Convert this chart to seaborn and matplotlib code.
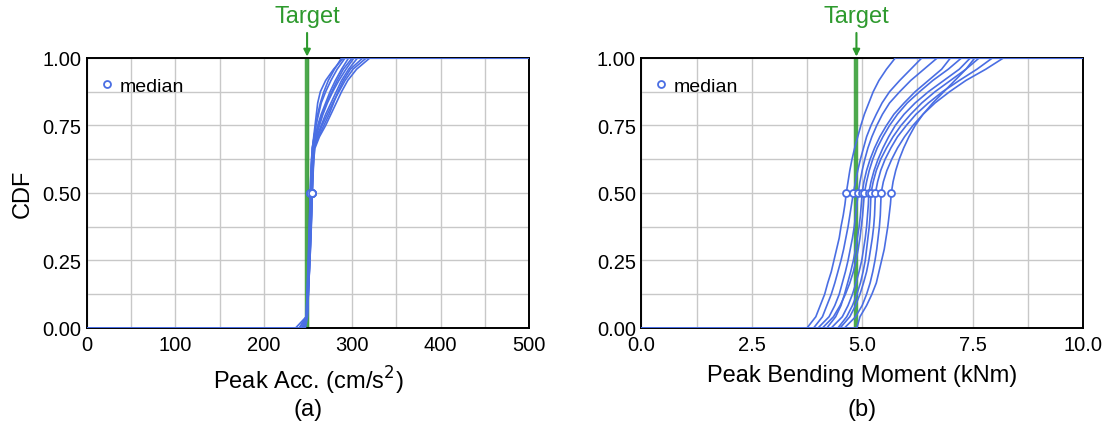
import numpy as np
import pandas as pd
import seaborn as sns
import matplotlib.pyplot as plt
from matplotlib.ticker import MultipleLocator

# peak acceleration samples per run (cm/s^2)
acc_runs = [
    [240, 248, 248.5, 249, 249.5, 250, 250.5, 251, 251.3, 251.6, 252, 252.3, 252.6, 253, 253.4, 254, 255, 257, 259, 262, 265, 270, 276, 283, 292],
    [244, 248.5, 249, 249.5, 250, 250.5, 251, 251.5, 252, 252.4, 252.8, 253.2, 253.6, 254, 254.5, 255, 256, 259, 263, 267, 272, 278, 285, 293, 302],
    [246, 249, 249.5, 250, 250.4, 250.8, 251.2, 251.6, 252, 252.3, 252.6, 252.9, 253.2, 253.6, 254, 254.4, 255, 256.5, 258, 259.5, 261, 264, 270, 279, 290],
    [243, 249, 249.6, 250.2, 250.8, 251.4, 252, 252.5, 253, 253.4, 253.8, 254.2, 254.6, 255, 255.5, 256.2, 257, 262, 268, 274, 279, 284, 290, 298, 312],
    [245, 248, 248.6, 249.2, 249.8, 250.3, 250.8, 251.2, 251.6, 252, 252.3, 252.6, 252.9, 253.3, 253.8, 254.5, 256, 258, 261, 265, 270, 275, 281, 288, 296],
    [247, 249.5, 250, 250.5, 251, 251.5, 252, 252.5, 253, 253.5, 254, 254.4, 254.8, 255.2, 255.8, 256.5, 258, 263, 270, 276, 282, 288, 295, 305, 320],
    [241, 248.2, 248.8, 249.4, 250, 250.5, 251, 251.5, 252, 252.5, 253, 253.4, 253.8, 254.2, 254.8, 255.4, 256, 259, 262, 266, 271, 277, 283, 290, 300],
    [246, 249.2, 249.8, 250.4, 251, 251.6, 252.2, 252.7, 253.2, 253.6, 254, 254.4, 254.8, 255.2, 255.7, 256.3, 257, 260, 265, 270, 276, 282, 288, 296, 306],
    [236, 248, 248.5, 249, 249.4, 249.8, 250.2, 250.6, 251, 251.4, 251.8, 252.2, 252.6, 253, 253.5, 254.2, 255, 257, 259, 261, 264, 268, 273, 280, 288],
    [245, 249, 249.7, 250.4, 251, 251.6, 252.2, 252.8, 253.3, 253.8, 254.2, 254.6, 255, 255.5, 256, 256.5, 257, 261, 266, 272, 278, 285, 292, 301, 316],
]

# peak bending moment samples per run (kNm)
mom_runs = [
    [3.75, 3.95, 4.05, 4.15, 4.22, 4.3, 4.36, 4.42, 4.48, 4.52, 4.57, 4.61, 4.64, 4.68, 4.72, 4.77, 4.83, 4.9, 4.97, 5.05, 5.15, 5.25, 5.38, 5.55, 5.75],
    [3.9, 4.1, 4.2, 4.3, 4.38, 4.45, 4.52, 4.58, 4.63, 4.68, 4.72, 4.76, 4.8, 4.85, 4.9, 4.96, 5.03, 5.1, 5.2, 5.32, 5.45, 5.62, 5.85, 6.1, 6.35],
    [4.0, 4.25, 4.38, 4.48, 4.55, 4.62, 4.68, 4.73, 4.78, 4.82, 4.85, 4.88, 4.91, 4.95, 5.0, 5.06, 5.13, 5.22, 5.33, 5.46, 5.62, 5.85, 6.1, 6.4, 6.7],
    [4.2, 4.4, 4.52, 4.6, 4.67, 4.74, 4.8, 4.85, 4.89, 4.93, 4.96, 4.98, 5.0, 5.04, 5.1, 5.18, 5.28, 5.4, 5.55, 5.72, 5.95, 6.2, 6.5, 6.8, 7.0],
    [4.1, 4.35, 4.5, 4.62, 4.72, 4.8, 4.86, 4.91, 4.95, 4.98, 5.01, 5.03, 5.05, 5.1, 5.16, 5.24, 5.34, 5.47, 5.62, 5.8, 6.02, 6.3, 6.6, 6.95, 7.25],
    [4.3, 4.55, 4.68, 4.78, 4.86, 4.93, 4.99, 5.03, 5.07, 5.1, 5.12, 5.14, 5.15, 5.2, 5.27, 5.36, 5.47, 5.6, 5.75, 5.95, 6.2, 6.5, 6.85, 7.2, 7.45],
    [4.45, 4.65, 4.78, 4.88, 4.96, 5.02, 5.07, 5.1, 5.13, 5.16, 5.18, 5.19, 5.2, 5.25, 5.32, 5.42, 5.55, 5.7, 5.88, 6.1, 6.35, 6.65, 7.0, 7.35, 7.65],
    [4.5, 4.72, 4.85, 4.95, 5.03, 5.1, 5.15, 5.19, 5.23, 5.26, 5.28, 5.29, 5.3, 5.35, 5.42, 5.52, 5.65, 5.8, 6.0, 6.22, 6.5, 6.82, 7.2, 7.6, 7.95],
    [4.6, 4.85, 5.0, 5.1, 5.18, 5.24, 5.29, 5.33, 5.36, 5.39, 5.41, 5.42, 5.43, 5.48, 5.56, 5.67, 5.8, 5.96, 6.15, 6.38, 6.65, 6.98, 7.35, 7.8, 8.2],
    [4.88, 4.95, 5.1, 5.22, 5.32, 5.38, 5.44, 5.5, 5.54, 5.58, 5.61, 5.64, 5.66, 5.7, 5.76, 5.84, 5.94, 6.06, 6.2, 6.38, 6.6, 6.85, 7.1, 7.35, 7.55],
]

acc_target = 249
mom_target = 4.87

sns.set_theme(style='whitegrid')
plt.rcParams['font.family'] = ['Liberation Sans', 'DejaVu Sans']
plt.rcParams['text.color'] = 'black'
plt.rcParams['axes.labelcolor'] = 'black'

blue = '#4a6ee3'
green = '#2e9a2e'

fig = plt.figure(figsize=(11.05, 4.31), dpi=100)
ax_a = fig.add_axes([0.0787, 0.2367, 0.4, 0.6265])
ax_b = fig.add_axes([0.5805, 0.2367, 0.3995, 0.6265])


def draw_panel(ax, runs, target, xmax, major, minor, xlabel, tag, fmt):
    for run in runs:
        s = np.sort(np.array(run, dtype=float))
        n = len(s)
        xs = np.concatenate([[0], s, [xmax]])
        ys = np.concatenate([[0], np.arange(n) / (n - 1), [1]])
        df = pd.DataFrame({'x': xs, 'cdf': ys})
        sns.lineplot(data=df, x='x', y='cdf', ax=ax, color=blue, lw=1.2,
                     estimator=None, sort=False, zorder=3)
    meds = pd.DataFrame({'x': [np.median(r) for r in runs], 'y': 0.5})
    ax.axvline(target, color=green, lw=3.2, alpha=0.85, zorder=2)
    ax.plot(meds['x'], meds['y'], 'o', ms=5, mfc='white', mec=blue, mew=1.3,
            zorder=4, label='median', ls='none')

    ax.set_xlim(0, xmax)
    ax.set_ylim(0, 1)
    ax.xaxis.set_major_locator(MultipleLocator(major))
    ax.xaxis.set_minor_locator(MultipleLocator(minor))
    ax.yaxis.set_major_locator(MultipleLocator(0.25))
    ax.yaxis.set_minor_locator(MultipleLocator(0.125))
    ax.xaxis.set_major_formatter(fmt)
    ax.yaxis.set_major_formatter(lambda v, p: f'{v:.2f}')
    ax.grid(which='both', color='#c8c8c8', lw=1.0)
    ax.tick_params(which='both', length=0, labelsize=14.5, colors='black')
    ax.tick_params(axis='x', pad=5)
    ax.tick_params(axis='y', pad=4)
    for sp in ax.spines.values():
        sp.set_color('black')
        sp.set_linewidth(1.4)
    ax.set_xlabel(xlabel, fontsize=17, labelpad=7)
    ax.set_ylabel('')
    ax.text(0.5, -0.3, tag, transform=ax.transAxes, ha='center', va='center', fontsize=17)
    ax.legend(loc='upper left', frameon=False, fontsize=14, handletextpad=0.15,
              borderaxespad=0.0, handlelength=1.0, borderpad=0.3,
              bbox_to_anchor=(0.01, 0.95))
    ax.annotate('Target', xy=(target, 1.0), xycoords=('data', 'axes fraction'),
                xytext=(target, 1.115), textcoords=('data', 'axes fraction'),
                ha='center', va='bottom', color=green, fontsize=17,
                arrowprops=dict(arrowstyle='-|>', color=green, lw=1.5,
                                mutation_scale=10, shrinkA=2, shrinkB=1))


draw_panel(ax_a, acc_runs, acc_target, 500, 100, 50,
           'Peak Acc. (cm/s$^2$)', '(a)', lambda v, p: f'{v:.0f}')
draw_panel(ax_b, mom_runs, mom_target, 10.0, 2.5, 1.25,
           'Peak Bending Moment (kNm)', '(b)', lambda v, p: f'{v:.1f}')
ax_a.set_ylabel('CDF', fontsize=17, labelpad=6)

fig.savefig('out.png', dpi=100)
